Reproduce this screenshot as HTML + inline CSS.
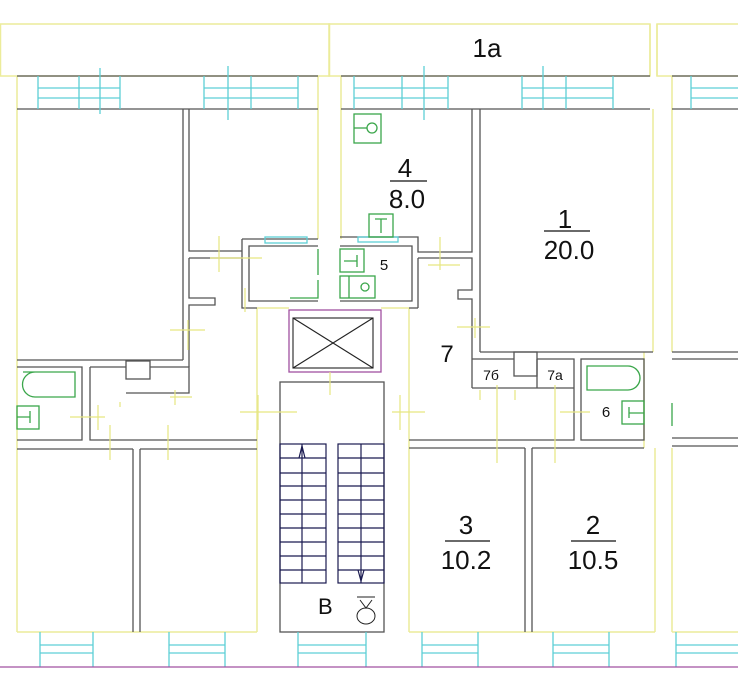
<!DOCTYPE html>
<html><head><meta charset="utf-8"><style>
html,body{margin:0;padding:0;background:#fff;}
svg{display:block;}
text{font-family:"Liberation Sans",sans-serif;fill:#111;}
</style></head><body>
<svg width="738" height="684" viewBox="0 0 738 684" xmlns="http://www.w3.org/2000/svg">
<rect width="738" height="684" fill="#fff"/>
<g fill="none" stroke="#ecec9a" stroke-width="1.5">
<rect x="0.5" y="24" width="329" height="52"/>
<rect x="329" y="24" width="321" height="52"/>
<rect x="657" y="24" width="85" height="52"/>
<line x1="650" y1="24" x2="650" y2="76"/><line x1="657" y1="24" x2="657" y2="76"/>
<line x1="17" y1="76" x2="17" y2="632"/>
<line x1="318" y1="76" x2="318" y2="239"/>
<line x1="341" y1="76" x2="341" y2="239"/>
<line x1="653" y1="109" x2="653" y2="352"/>
<line x1="672" y1="76" x2="672" y2="352"/>
<line x1="257" y1="308" x2="257" y2="632"/>
<line x1="409" y1="308" x2="409" y2="632"/>
<line x1="655" y1="448" x2="655" y2="632"/>
<line x1="644" y1="352" x2="644" y2="448"/>
<line x1="672" y1="448" x2="672" y2="632"/>
<line x1="17" y1="632" x2="257" y2="632"/>
<line x1="409" y1="632" x2="655" y2="632"/>
<line x1="672" y1="632" x2="738" y2="632"/>
<line x1="257" y1="308" x2="289" y2="308"/>
<line x1="381" y1="308" x2="409" y2="308"/>
</g>
<g fill="none" stroke="#555" stroke-width="1.3">
<line x1="17" y1="76" x2="318" y2="76"/><line x1="17" y1="109" x2="318" y2="109"/>
<line x1="341" y1="76" x2="650" y2="76"/><line x1="341" y1="109" x2="650" y2="109"/>
<line x1="672" y1="76" x2="738" y2="76"/><line x1="672" y1="109" x2="738" y2="109"/>
<line x1="183" y1="109" x2="183" y2="360"/>
<polyline points="189,109 189,251 242,251"/>
<polyline points="189,258 242,258"/>
<polyline points="189,258 189,298 215,298 215,305 189,305 189,367"/>
<line x1="17" y1="360" x2="183" y2="360"/>
<polyline points="242,239 318,239"/><polyline points="242,239 242,308 257,308"/>
<polyline points="318,246 249,246 249,301 318,301"/>
<polyline points="17,367 82,367 82,440 17,440"/>
<polyline points="90,367 126,367"/><polyline points="150,367 189,367 189,393 126,393"/>
<rect x="126" y="361" width="24" height="18"/>
<polyline points="90,367 90,440 257,440"/>
<line x1="17" y1="449" x2="133" y2="449"/><line x1="140" y1="449" x2="257" y2="449"/>
<line x1="133" y1="449" x2="133" y2="632"/><line x1="140" y1="449" x2="140" y2="632"/>
<polyline points="340,237 418,237 418,252 472,252 472,109"/>
<polyline points="340,246 412,246 412,301 340,301"/>
<polyline points="418,258 472,258 472,290 458,290 458,299 472,299 472,388"/>
<line x1="418" y1="258" x2="418" y2="308"/><line x1="409" y1="308" x2="418" y2="308"/>
<line x1="480" y1="109" x2="480" y2="352"/>
<line x1="480" y1="352" x2="653" y2="352"/>
<polyline points="472,359 514,359"/><polyline points="537,359 574,359 574,440 409,440"/>
<line x1="472" y1="388" x2="574" y2="388"/>
<line x1="537" y1="359" x2="537" y2="388"/>
<rect x="514" y="352" width="23" height="24"/>
<rect x="581" y="359" width="63" height="81"/>
<line x1="409" y1="448" x2="525" y2="448"/><line x1="532" y1="448" x2="644" y2="448"/>
<line x1="525" y1="448" x2="525" y2="632"/><line x1="532" y1="448" x2="532" y2="632"/>
<line x1="672" y1="352" x2="738" y2="352"/><line x1="672" y1="359" x2="738" y2="359"/>
<line x1="672" y1="438" x2="738" y2="438"/><line x1="672" y1="446" x2="738" y2="446"/>
<rect x="280" y="382" width="104" height="250"/>
</g>
<g fill="none" stroke="#1a1a50" stroke-width="1.2">
<rect x="280" y="444" width="46" height="139"/>
<rect x="338" y="444" width="46" height="139"/>
<line x1="302" y1="444" x2="302" y2="583"/><line x1="361" y1="444" x2="361" y2="583"/>
<path d="M280 458H326M280 473H326M280 486H326M280 500H326M280 514H326M280 528H326M280 542H326M280 556H326M280 570H326"/>
<path d="M338 458H384M338 473H384M338 486H384M338 500H384M338 514H384M338 528H384M338 542H384M338 556H384M338 570H384"/>
<path d="M299 458L302 446L305 458"/><path d="M358 570L361 581L364 570"/>
</g>
<g fill="none" stroke="#222" stroke-width="1">
<ellipse cx="366" cy="616" rx="9" ry="8"/><line x1="357" y1="597" x2="375" y2="597"/><path d="M360 600L366 608L372 600"/>
</g>
<text x="318" y="614" font-size="22">B</text>
<rect x="289" y="310" width="92" height="62" fill="none" stroke="#a050a0" stroke-width="1.3"/>
<g fill="none" stroke="#222" stroke-width="1.1">
<rect x="293" y="318" width="80" height="50"/>
<line x1="293" y1="318" x2="373" y2="368"/><line x1="373" y1="318" x2="293" y2="368"/>
</g>
<g fill="none" stroke="#5dcfd6" stroke-width="1.3">
<path d="M38 76V109M79 76V109M120 76V109M38 88H120M38 98H120M100 68V114"/>
<path d="M204 76V109M251 76V109M298 76V109M204 88H298M204 98H298M228 66V120"/>
<path d="M354 76V109M402 76V109M448 76V109M354 88H448M354 98H448M424 66V120"/>
<path d="M522 76V109M566 76V109M613 76V109M522 88H613M522 98H613M543 66V110"/>
<path d="M691 76V109M691 88H738M691 98H738"/>
<path d="M40 632V667M93 632V667M40 645H93M40 653H93"/>
<path d="M169 632V667M225 632V667M169 645H225M169 653H225"/>
<path d="M298 632V667M366 632V667M298 645H366M298 653H366"/>
<path d="M422 632V667M478 632V667M422 645H478M422 653H478"/>
<path d="M553 632V667M609 632V667M553 645H609M553 653H609"/>
<path d="M676 632V667M676 645H738M676 653H738"/>
<rect x="265" y="237" width="42" height="6"/>
<rect x="358" y="237" width="40" height="5"/>
</g>
<line x1="0" y1="667" x2="738" y2="667" stroke="#a050a0" stroke-width="1.3"/>
<g fill="none" stroke="#3aa64a" stroke-width="1.3">
<rect x="354" y="114" width="27" height="29"/><circle cx="372" cy="128" r="5"/><line x1="354" y1="128" x2="367" y2="128"/>
<rect x="369" y="214" width="24" height="23"/><path d="M375 219H387M381 219V233"/>
<rect x="340" y="249" width="24" height="23"/><path d="M344 261H357M357 255V267"/>
<rect x="340" y="276" width="35" height="22"/><line x1="349" y1="276" x2="349" y2="298"/><circle cx="365" cy="287" r="4"/>
<path d="M318 249V275M318 280V298H290"/>
<path d="M23 372H75V397H35A12 12 0 0 1 35 372"/>
<rect x="17" y="406" width="22" height="23"/><path d="M17 417H30M30 411V423"/>
<path d="M587 366H628A12 12 0 0 1 628 390H587Z"/>
<rect x="622" y="401" width="22" height="23"/><path d="M629 407V418M629 413H644"/>
<path d="M672 403V426"/>
</g>
<g stroke="#e6e680" stroke-width="1.2" fill="none">
<path d="M219 236V272M210 258H262M170 330H205M188 320V350M245 288V312"/>
<path d="M70 417H105M98 405V430M170 397H192M175 390V405M110 425V460M168 425V460M120 402V407"/>
<path d="M240 412H297M258 395V430M330 372V395"/>
<path d="M392 412H425M400 395V430"/>
<path d="M440 237V270M428 265H460M457 327H490M475 318V338"/>
<path d="M497 385V463M555 385V463M560 412H590M480 390V400M515 390V400"/>
</g>
<text x="487" y="57" font-size="26" text-anchor="middle">1a</text>
<text x="405" y="177" font-size="26" text-anchor="middle">4</text>
<line x1="390" y1="181" x2="427" y2="181" stroke="#111" stroke-width="1.2"/>
<text x="407" y="208" font-size="26" text-anchor="middle">8.0</text>
<text x="565" y="228" font-size="26" text-anchor="middle">1</text>
<line x1="544" y1="231" x2="590" y2="231" stroke="#111" stroke-width="1.2"/>
<text x="569" y="259" font-size="26" text-anchor="middle">20.0</text>
<text x="466" y="534" font-size="26" text-anchor="middle">3</text>
<line x1="445" y1="541" x2="490" y2="541" stroke="#111" stroke-width="1.2"/>
<text x="466" y="569" font-size="26" text-anchor="middle">10.2</text>
<text x="593" y="534" font-size="26" text-anchor="middle">2</text>
<line x1="571" y1="541" x2="616" y2="541" stroke="#111" stroke-width="1.2"/>
<text x="593" y="569" font-size="26" text-anchor="middle">10.5</text>
<text x="384" y="270" font-size="15" text-anchor="middle">5</text>
<text x="447" y="362" font-size="24" text-anchor="middle">7</text>
<text x="491" y="380" font-size="14" text-anchor="middle">7б</text>
<text x="555" y="380" font-size="14" text-anchor="middle">7a</text>
<text x="606" y="417" font-size="15" text-anchor="middle">6</text>
</svg>
</body></html>
